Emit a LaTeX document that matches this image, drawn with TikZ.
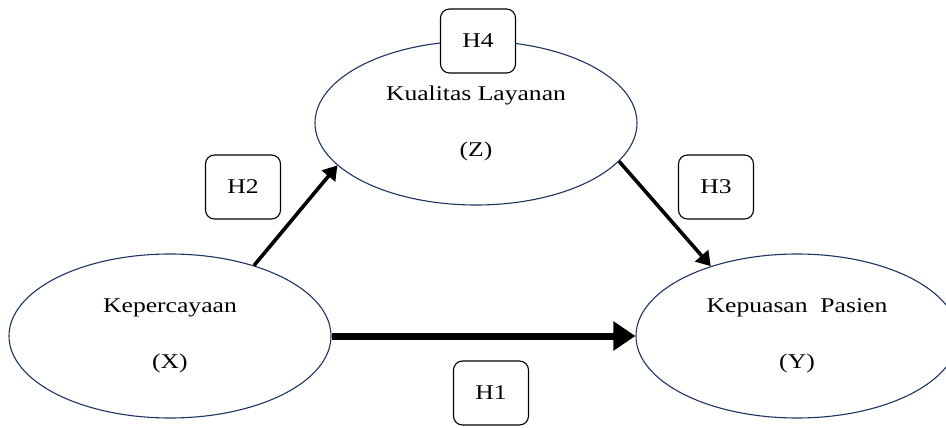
\documentclass[tikz,border=0pt]{standalone}
\usepackage{fontspec}
\setmainfont[FakeStretch=1.22]{Liberation Serif}
\usetikzlibrary{shapes.geometric,arrows.meta}
\definecolor{garisbiru}{RGB}{30,52,96}
\begin{document}
\begin{tikzpicture}[x=1pt,y=-1pt,
  var/.style={ellipse,draw=garisbiru,line width=1.1pt,fill=white,minimum width=322pt,minimum height=164pt,align=center,font=\fontsize{21}{56}\selectfont},
  hip/.style={draw,rounded corners=9pt,line width=1.1pt,fill=white,minimum width=75pt,minimum height=64pt,font=\fontsize{21}{25}\selectfont},
  panah/.style={-{Triangle[length=14pt,width=17pt]},line width=3.6pt},
  panahtebal/.style={-{Triangle[length=22pt,width=28pt]},line width=7pt}]
\useasboundingbox (0,0) rectangle (946,428);
\clip (0,0) rectangle (946,428);
\pgfmathsetmacro{\kyb}{336}
\node[var] (X) at (170,\kyb) {Kepercayaan\\(X)};
\node[var] (Y) at (797,\kyb) {Kepuasan\ \ Pasien\\(Y)};
\node[var] (Z) at (476,123) {Kualitas Layanan\\(Z)};
% jalur hipotesis
\draw[panah] (X.40) -- (Z.197);
\draw[panah] (Z.-15) -- (Y.141);
\draw[panahtebal] (X.east) -- (Y.west);
\node[hip] (h1) at (491,393) {H1};
\node[hip] (h2) at (243,187) {H2};
\node[hip] (h3) at (716,187) {H3};
\node[hip] (h4) at (478,41) {H4};
\end{tikzpicture}
\end{document}
